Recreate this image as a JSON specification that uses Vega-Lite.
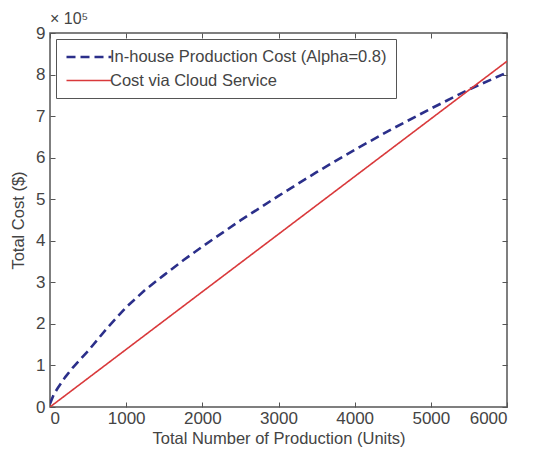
{
  "$schema": "https://vega.github.io/schema/vega-lite/v6.json",
  "autosize": {"type": "none"},
  "padding": {"left": 50, "top": 33, "right": 38, "bottom": 46},
  "width": 457,
  "height": 374,
  "background": "white",
  "config": {
    "font": "Liberation Sans",
    "view": {"stroke": "#555", "strokeWidth": 1.5},
    "axis": {
      "grid": false,
      "domain": false,
      "tickColor": "#555",
      "tickSize": -5,
      "labelFontSize": 17,
      "labelColor": "#444",
      "titleColor": "#444",
      "titleFontSize": 16.5,
      "titleFontWeight": "normal",
      "labelFont": "Liberation Sans",
      "titleFont": "Liberation Sans"
    }
  },
  "title": {
    "text": "× 10⁵",
    "anchor": "start",
    "frame": "group",
    "fontSize": 16,
    "fontWeight": "normal",
    "color": "#444",
    "offset": -3,
    "font": "Liberation Sans"
  },
  "data": {
    "values": [
      {"series": "In-house Production Cost (Alpha=0.8)", "units": 0, "cost": 8000},
      {"series": "In-house Production Cost (Alpha=0.8)", "units": 50, "cost": 30000},
      {"series": "In-house Production Cost (Alpha=0.8)", "units": 100, "cost": 45000},
      {"series": "In-house Production Cost (Alpha=0.8)", "units": 200, "cost": 72000},
      {"series": "In-house Production Cost (Alpha=0.8)", "units": 300, "cost": 95000},
      {"series": "In-house Production Cost (Alpha=0.8)", "units": 400, "cost": 115000},
      {"series": "In-house Production Cost (Alpha=0.8)", "units": 500, "cost": 135000},
      {"series": "In-house Production Cost (Alpha=0.8)", "units": 750, "cost": 190000},
      {"series": "In-house Production Cost (Alpha=0.8)", "units": 1000, "cost": 240000},
      {"series": "In-house Production Cost (Alpha=0.8)", "units": 1250, "cost": 282000},
      {"series": "In-house Production Cost (Alpha=0.8)", "units": 1500, "cost": 318000},
      {"series": "In-house Production Cost (Alpha=0.8)", "units": 1750, "cost": 353000},
      {"series": "In-house Production Cost (Alpha=0.8)", "units": 2000, "cost": 386000},
      {"series": "In-house Production Cost (Alpha=0.8)", "units": 2500, "cost": 449000},
      {"series": "In-house Production Cost (Alpha=0.8)", "units": 3000, "cost": 508000},
      {"series": "In-house Production Cost (Alpha=0.8)", "units": 3500, "cost": 565000},
      {"series": "In-house Production Cost (Alpha=0.8)", "units": 4000, "cost": 619000},
      {"series": "In-house Production Cost (Alpha=0.8)", "units": 4500, "cost": 670000},
      {"series": "In-house Production Cost (Alpha=0.8)", "units": 5000, "cost": 718000},
      {"series": "In-house Production Cost (Alpha=0.8)", "units": 5500, "cost": 764000},
      {"series": "In-house Production Cost (Alpha=0.8)", "units": 6000, "cost": 805000},
      {"series": "Cost via Cloud Service", "units": 0, "cost": 0},
      {"series": "Cost via Cloud Service", "units": 3000, "cost": 416000},
      {"series": "Cost via Cloud Service", "units": 6000, "cost": 832000}
    ]
  },
  "resolve": {"axis": {"x": "independent", "y": "independent"}},
  "layer": [
    {
      "mark": {"type": "line", "opacity": 0},
      "encoding": {
        "x": {"field": "units", "type": "quantitative", "scale": {"domain": [0, 6000], "nice": false},
              "axis": {"orient": "top", "labels": false, "title": null, "values": [0, 1000, 2000, 3000, 4000, 5000, 6000]}},
        "y": {"field": "cost", "type": "quantitative", "scale": {"domain": [0, 900000], "nice": false},
              "axis": {"orient": "right", "labels": false, "title": null, "values": [0, 100000, 200000, 300000, 400000, 500000, 600000, 700000, 800000, 900000]}},
        "detail": {"field": "series"}
      }
    },
    {
      "mark": {"type": "line", "clip": true},
      "encoding": {
        "x": {"field": "units", "type": "quantitative", "scale": {"domain": [0, 6000], "nice": false},
              "axis": {"orient": "bottom", "title": "Total Number of Production (Units)", "values": [0, 1000, 2000, 3000, 4000, 5000, 6000], "format": "d", "labelPadding": 8, "titlePadding": 4}},
        "y": {"field": "cost", "type": "quantitative", "scale": {"domain": [0, 900000], "nice": false},
              "axis": {"orient": "left", "title": "Total Cost ($)", "values": [0, 100000, 200000, 300000, 400000, 500000, 600000, 700000, 800000, 900000], "labelExpr": "datum.value / 100000", "labelPadding": 10, "titlePadding": 9}},
        "color": {
          "field": "series", "type": "nominal",
          "scale": {"domain": ["In-house Production Cost (Alpha=0.8)", "Cost via Cloud Service"], "range": ["#2b2f8a", "#d9393b"]},
          "legend": {
            "title": null,
            "orient": "top-left",
            "offset": 6,
            "padding": 9,
            "strokeColor": "#555",
            "fillColor": "white",
            "labelFontSize": 16.5,
            "labelColor": "#444",
            "labelFont": "Liberation Sans",
            "labelLimit": 400,
            "symbolType": "M-1,0H5",
            "symbolSize": 225,
            "symbolStrokeWidth": 2,
            "rowPadding": 6,
            "labelOffset": 27
          }
        },
        "strokeDash": {
          "field": "series", "type": "nominal",
          "scale": {"domain": ["In-house Production Cost (Alpha=0.8)", "Cost via Cloud Service"], "range": [[9, 5], [1, 0]]},
          "legend": null
        },
        "strokeWidth": {
          "field": "series", "type": "nominal",
          "scale": {"domain": ["In-house Production Cost (Alpha=0.8)", "Cost via Cloud Service"], "range": [2.6, 1.6]},
          "legend": null
        }
      }
    }
  ]
}
